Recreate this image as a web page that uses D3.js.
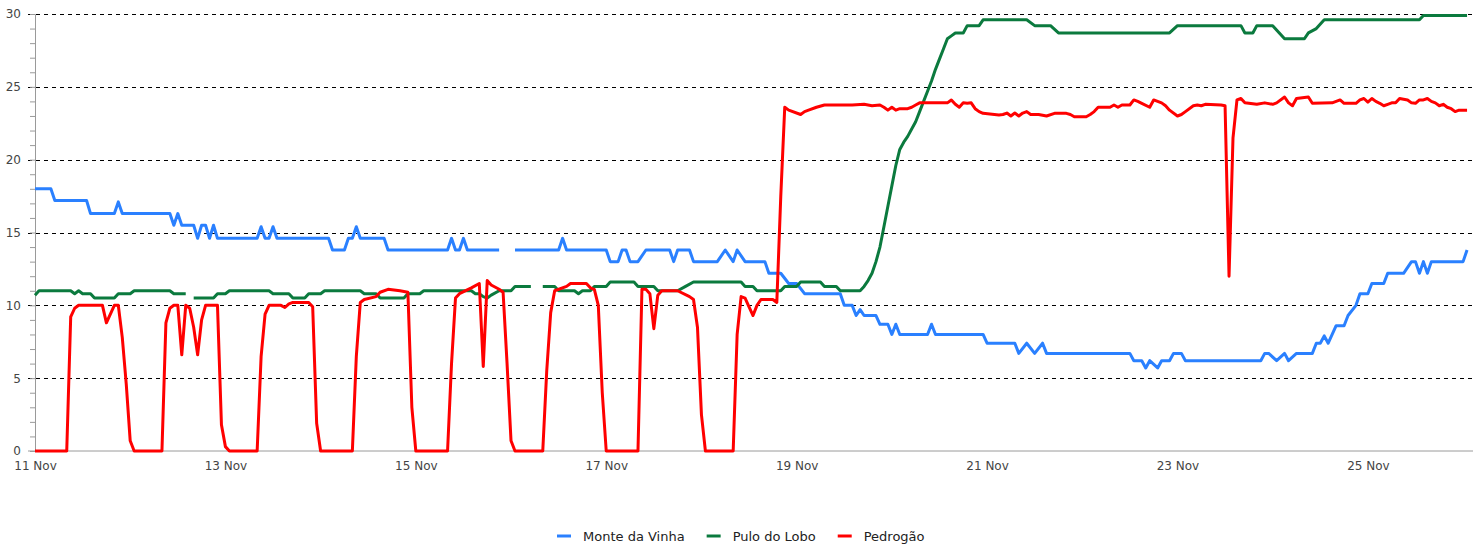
<!DOCTYPE html>
<html>
<head>
<meta charset="utf-8">
<script src="https://cdn.jsdelivr.net/npm/d3@7"></script>
<style>
  body { margin: 0; background: #fff; }
  svg { display: block; font-family: 'DejaVu Sans', sans-serif; }
</style>
</head>
<body>
<div id="chart"></div>
<script>
// series names and colours
const seriesNames = ['Monte da Vinha', 'Pulo do Lobo', 'Pedrogão']
const seriesColors = ['#2a80ff', '#0b7a3e', '#ff0000']

// readings: [hours since 11 Nov 00:00, value] (null = no data)
const monteDaVinha = [[0, 18.0], [4, 18.0], [5, 17.2], [13, 17.2], [14, 16.3], [20, 16.3], [21, 17.1], [22, 16.3], [34, 16.3], [35, 15.5], [36, 16.3], [37, 15.5], [40, 15.5], [41, 14.6], [42, 15.5], [43, 15.5], [44, 14.6], [45, 15.5], [46, 14.6], [56, 14.6], [57, 15.4], [58, 14.6], [59, 14.6], [60, 15.4], [61, 14.6], [74, 14.6], [75, 13.8], [78, 13.8], [79, 14.6], [80, 14.6], [81, 15.4], [82, 14.6], [88, 14.6], [89, 13.8], [104, 13.8], [105, 14.6], [106, 13.8], [107, 13.8], [108, 14.6], [109, 13.8], [117, 13.8], [118, null], [121, 13.8], [132, 13.8], [133, 14.6], [134, 13.8], [144, 13.8], [145, 13.0], [147, 13.0], [148, 13.8], [149, 13.8], [150, 13.0], [152, 13.0], [154, 13.8], [160, 13.8], [161, 13.0], [162, 13.8], [165, 13.8], [166, 13.0], [172, 13.0], [174, 13.8], [176, 13.0], [177, 13.8], [179, 13.0], [184, 13.0], [185, 12.2], [188, 12.2], [190, 11.5], [192, 11.5], [194, 10.8], [203, 10.8], [204, 10.0], [206, 10.0], [207, 9.3], [208, 9.7], [209, 9.3], [212, 9.3], [213, 8.7], [215, 8.7], [216, 8.0], [217, 8.7], [218, 8.0], [225, 8.0], [226, 8.7], [227, 8.0], [239, 8.0], [240, 7.4], [247, 7.4], [248, 6.7], [250, 7.4], [252, 6.7], [254, 7.4], [255, 6.7], [276, 6.7], [277, 6.2], [279, 6.2], [280, 5.7], [281, 6.2], [283, 5.7], [284, 6.2], [286, 6.2], [287, 6.7], [289, 6.7], [290, 6.2], [309, 6.2], [310, 6.7], [311, 6.7], [313, 6.2], [315, 6.7], [316, 6.2], [318, 6.7], [322, 6.7], [323, 7.4], [324, 7.4], [325, 7.9], [326, 7.4], [328, 8.6], [330, 8.6], [331, 9.3], [333, 10.0], [334, 10.8], [336, 10.8], [337, 11.5], [340, 11.5], [341, 12.2], [345, 12.2], [347, 13.0], [348, 13.0], [349, 12.2], [350, 13.0], [351, 12.2], [352, 13.0], [360, 13.0], [361, 13.8]]

const puloDoLobo = [[0, 10.7], [1, 11.0], [9, 11.0], [10, 10.8], [11, 11.0], [12, 10.8], [14, 10.8], [15, 10.5], [20, 10.5], [21, 10.8], [24, 10.8], [25, 11.0], [34, 11.0], [35, 10.8], [38, 10.8], [39, null], [40, 10.5], [45, 10.5], [46, 10.8], [48, 10.8], [49, 11.0], [59, 11.0], [60, 10.8], [64, 10.8], [65, 10.5], [68, 10.5], [69, 10.8], [72, 10.8], [73, 11.0], [82, 11.0], [83, 10.8], [86, 10.8], [87, 10.5], [93, 10.5], [94, 10.8], [97, 10.8], [98, 11.0], [110, 11.0], [111, 10.8], [112, 10.8], [113, 10.6], [114, 10.5], [115, 10.7], [117, 11.0], [120, 11.0], [121, 11.3], [125, 11.3], [126, null], [128, 11.3], [131, 11.3], [132, 11.0], [136, 11.0], [137, 10.8], [138, 11.0], [140, 11.0], [141, 11.3], [144, 11.3], [145, 11.6], [151, 11.6], [152, 11.3], [156, 11.3], [157, 11.0], [162, 11.0], [164, 11.3], [166, 11.6], [178, 11.6], [179, 11.3], [181, 11.3], [182, 11.0], [188, 11.0], [189, 11.3], [192, 11.3], [193, 11.6], [198, 11.6], [199, 11.3], [202, 11.3], [203, 11.0], [208, 11.0], [209, 11.3], [210, 11.7], [211, 12.2], [212, 13.0], [213, 14.0], [214, 15.4], [215, 16.8], [216, 18.2], [217, 19.6], [218, 20.7], [219, 21.2], [220, 21.6], [221, 22.1], [222, 22.6], [223, 23.3], [224, 24.0], [225, 24.7], [226, 25.4], [227, 26.2], [228, 26.9], [229, 27.6], [230, 28.3], [231, 28.5], [232, 28.7], [234, 28.7], [235, 29.2], [238, 29.2], [239, 29.6], [250, 29.6], [252, 29.2], [256, 29.2], [258, 28.7], [286, 28.7], [288, 29.2], [304, 29.2], [305, 28.7], [307, 28.7], [308, 29.2], [312, 29.2], [315, 28.3], [320, 28.3], [321, 28.7], [323, 29.0], [325, 29.6], [349, 29.6], [350, 29.9], [361, 29.9]]

const pedrogao = [[0, 0], [8, 0], [9, 9.2], [10, 9.8], [11, 10.0], [17, 10.0], [18, 8.8], [20, 10.0], [21, 10.0], [22, 7.8], [23, 4.6], [24, 0.7], [25, 0], [32, 0], [33, 8.8], [34, 9.8], [35, 10.0], [36, 10.0], [37, 6.6], [38, 10.0], [39, 9.8], [40, 8.5], [41, 6.6], [42, 9.0], [43, 10.0], [46, 10.0], [47, 1.8], [48, 0.3], [49, 0], [56, 0], [57, 6.5], [58, 9.4], [59, 10.0], [62, 10.0], [63, 9.85], [64, 10.1], [65, 10.2], [69, 10.2], [70, 9.9], [71, 1.9], [72, 0], [80, 0], [81, 6.5], [82, 10.2], [83, 10.4], [86, 10.6], [87, 10.9], [89, 11.1], [92, 11.0], [94, 10.9], [95, 3.0], [96, 0], [104, 0], [105, 6.0], [106, 10.5], [107, 10.8], [110, 11.2], [112, 11.5], [113, 5.8], [114, 11.7], [115, 11.4], [117, 11.1], [118, 10.9], [119, 6.0], [120, 0.7], [121, 0], [128, 0], [129, 5.5], [130, 9.5], [131, 11.0], [134, 11.3], [135, 11.5], [139, 11.5], [140, 11.2], [141, 11.1], [142, 10.0], [143, 4.0], [144, 0], [152, 0], [153, 11.1], [154, 11.1], [155, 10.8], [156, 8.4], [157, 10.7], [158, 11.0], [162, 11.0], [165, 10.6], [166, 10.4], [167, 8.5], [168, 2.5], [169, 0], [176, 0], [177, 8.0], [178, 10.6], [179, 10.5], [180, 9.9], [181, 9.3], [182, 10.0], [183, 10.4], [186, 10.4], [187, 10.2], [188, 17.5], [189, 23.6], [190, 23.4], [193, 23.1], [194, 23.3], [195, 23.4], [197, 23.6], [199, 23.75], [206, 23.75], [209, 23.8], [211, 23.7], [213, 23.75], [214, 23.6], [215, 23.4], [216, 23.6], [217, 23.4], [218, 23.5], [220, 23.5], [221, 23.6], [222, 23.75], [223, 23.9], [230, 23.9], [231, 24.1], [232, 23.8], [233, 23.6], [234, 23.9], [235, 23.87], [236, 23.9], [237, 23.5], [238, 23.3], [239, 23.18], [243, 23.07], [244, 23.1], [245, 23.2], [246, 23.0], [247, 23.2], [248, 23.0], [249, 23.2], [250, 23.3], [251, 23.1], [253, 23.1], [255, 23.0], [257, 23.18], [260, 23.18], [261, 23.1], [262, 22.95], [265, 22.95], [266, 23.1], [267, 23.3], [268, 23.6], [271, 23.6], [272, 23.75], [273, 23.6], [274, 23.75], [276, 23.75], [277, 24.1], [278, 24.0], [279, 23.87], [281, 23.6], [282, 24.1], [283, 24.0], [284, 23.9], [285, 23.7], [286, 23.4], [288, 23.0], [289, 23.1], [290, 23.3], [292, 23.7], [293, 23.75], [294, 23.7], [295, 23.8], [299, 23.75], [300, 23.7], [301, 12.0], [302, 21.5], [303, 24.1], [304, 24.2], [305, 23.9], [308, 23.8], [310, 23.9], [312, 23.8], [313, 23.9], [315, 24.3], [316, 23.9], [317, 23.7], [318, 24.2], [321, 24.3], [322, 23.87], [327, 23.9], [328, 24.0], [329, 24.1], [330, 23.87], [333, 23.87], [334, 24.1], [335, 24.2], [336, 23.95], [337, 24.2], [338, 24.0], [339, 23.87], [340, 23.7], [341, 23.8], [342, 23.9], [343, 23.9], [344, 24.2], [346, 24.1], [347, 23.9], [348, 23.87], [349, 24.1], [350, 24.1], [351, 24.2], [352, 24.0], [353, 23.9], [354, 23.7], [355, 23.8], [356, 23.6], [357, 23.5], [358, 23.3], [359, 23.4], [361, 23.4]]

const yTicks = [0, 5, 10, 15, 20, 25, 30]

const width = 1481
const height = 548
const margin = { top: 14, right: 8, bottom: 97, left: 35 }

const startDate = new Date(2019, 10, 11)
const endDate = new Date(+startDate + 362.5 * 3600e3)
const toDate = h => new Date(+startDate + h * 3600e3)

const svg = d3.select('#chart')
  .append('svg')
  .attr('width', width)
  .attr('height', height)

const x = d3.scaleTime()
  .domain([startDate, endDate])
  .range([margin.left, width - margin.right])

const y = d3.scaleLinear()
  .domain([0, 30])
  .range([height - margin.bottom, margin.top])

// dashed grid lines
svg.append('g')
  .selectAll('line')
  .data(yTicks.filter(d => d > 0))
  .enter()
  .append('line')
  .attr('x1', margin.left - 7)
  .attr('x2', width - margin.right)
  .attr('y1', d => Math.round(y(d)) + 0.5)
  .attr('y2', d => Math.round(y(d)) + 0.5)
  .attr('stroke', '#000')
  .attr('stroke-width', 1)
  .attr('stroke-dasharray', '4,4')
  .attr('shape-rendering', 'crispEdges')

// minor y ticks
svg.append('g')
  .attr('transform', 'translate(' + margin.left + ',0)')
  .call(d3.axisLeft(y).tickValues(d3.range(0, 31)).tickSize(5).tickFormat(''))
  .call(g => g.select('.domain').attr('stroke', '#9a9a9a'))
  .call(g => g.selectAll('.tick line').attr('stroke', '#9a9a9a'))

// y labels
svg.append('g')
  .attr('transform', 'translate(' + margin.left + ',0)')
  .call(d3.axisLeft(y).tickValues(yTicks).tickSize(0).tickPadding(14))
  .call(g => g.select('.domain').remove())
  .call(g => g.selectAll('text')
    .attr('fill', '#444')
    .style('font-size', '12px')
    .style('font-family', 'DejaVu Sans, sans-serif'))

// x axis
svg.append('g')
  .attr('transform', 'translate(0,' + (height - margin.bottom) + ')')
  .call(d3.axisBottom(x).ticks(d3.timeDay.every(2)).tickSize(0).tickPadding(10)
    .tickFormat(d3.timeFormat('%-d %b')))
  .call(g => g.select('.domain').attr('stroke', '#9a9a9a').attr('d', 'M' + (margin.left - 7) + ',0H' + (width - margin.right)))
  .call(g => g.selectAll('text')
    .attr('fill', '#444')
    .style('font-size', '12px')
    .style('font-family', 'DejaVu Sans, sans-serif'))

// lines
const line = d3.line()
  .defined(d => d[1] !== null)
  .x(d => x(toDate(d[0])))
  .y(d => y(d[1]))

const allSeries = [monteDaVinha, puloDoLobo, pedrogao]
svg.append('g')
  .selectAll('path')
  .data(allSeries)
  .enter()
  .append('path')
  .attr('d', line)
  .attr('fill', 'none')
  .attr('stroke', (d, i) => seriesColors[i])
  .attr('stroke-width', 3)
  .attr('stroke-linejoin', 'round')

// legend, centred under the chart
const legend = svg.append('g')
const items = legend.selectAll('g')
  .data(seriesNames)
  .enter()
  .append('g')
items.append('line')
  .attr('x1', 0).attr('x2', 14)
  .attr('y1', 0).attr('y2', 0)
  .attr('stroke', (d, i) => seriesColors[i])
  .attr('stroke-width', 3)
items.append('text')
  .attr('x', 26)
  .attr('y', 0)
  .attr('dy', '0.35em')
  .attr('fill', '#222')
  .style('font-size', '13px')
  .text(d => d)

let offset = 0
items.each(function () {
  const g = d3.select(this)
  g.attr('transform', 'translate(' + offset + ',0)')
  offset += 26 + g.select('text').node().getComputedTextLength() + 22
})
offset -= 22
legend.attr('transform', 'translate(' + Math.round((width - offset) / 2) + ',536)')
</script>
</body>
</html>
